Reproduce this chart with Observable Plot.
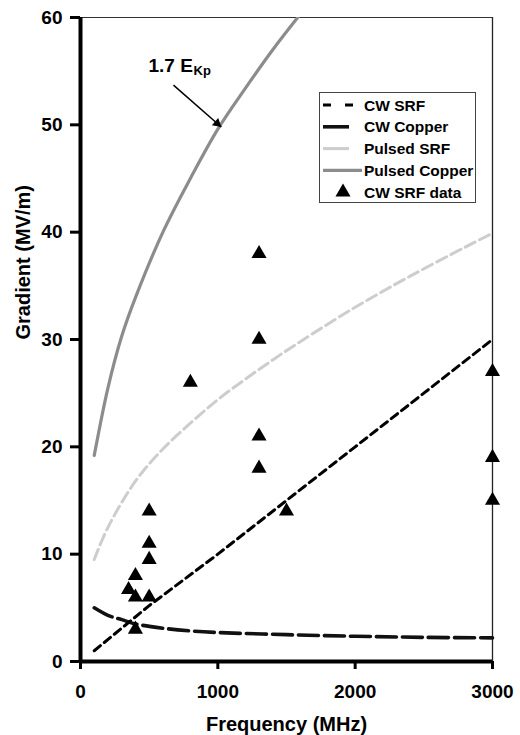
<!DOCTYPE html>
<html>
<head>
<meta charset="utf-8">
<script src="https://cdn.jsdelivr.net/npm/d3@7"></script>
<script src="https://cdn.jsdelivr.net/npm/@observablehq/plot@0.6"></script>
<style>
  html, body { margin: 0; padding: 0; background: #fff; }
  #wrap { position: relative; width: 520px; height: 735px; font-family: "Liberation Sans", Arial, sans-serif; }
  #legend { position: absolute; left: 319px; top: 92px; }
  g[aria-label="y-axis tick"], g[aria-label="x-axis tick"] { stroke-width: 3px; }
</style>
</head>
<body>
<div id="wrap"><div id="chart"></div><div id="legend"></div></div>
<script>
// ---- data ----
const cwSrfFreq = [100, 500, 1000, 1500, 2000, 2500, 3000];
const cwSrfGrad = [1.0, 5.2, 10.0, 15.0, 20.0, 25.0, 30.0];

const cwCopperFreq = [100, 200, 300, 400, 600, 800, 1000, 1500, 2000, 2500, 3000];
const cwCopperGrad = [5.0, 4.3, 3.9, 3.5, 3.1, 2.85, 2.7, 2.5, 2.35, 2.25, 2.2];

const pulsedSrfFreq = [100, 200, 400, 600, 800, 1000, 1200, 1400, 1600, 2000, 2400, 2800, 3000];
const pulsedSrfGrad = [9.5, 12.5, 16.8, 19.8, 22.2, 24.4, 26.3, 28.1, 29.8, 33.0, 35.9, 38.6, 39.9];

const pulsedCuFreq = [100, 200, 300, 400, 600, 800, 1000, 1200, 1400, 1600];
const pulsedCuGrad = [19.2, 25.5, 30.3, 33.9, 40.0, 45.0, 49.6, 53.4, 57.0, 60.3];

const dataFreq = [350, 400, 400, 400, 500, 500, 500, 500, 800, 1300, 1300, 1300, 1300, 1500, 3000, 3000, 3000];
const dataGrad = [6.7, 8.0, 6.0, 3.0, 14.0, 11.0, 9.5, 6.0, 26.0, 38.0, 30.0, 21.0, 18.0, 14.0, 27.0, 19.0, 15.0];

const xTicks = [0, 1000, 2000, 3000];
const yTicks = [0, 10, 20, 30, 40, 50, 60];

const seriesNames = ["CW SRF", "CW Copper", "Pulsed SRF", "Pulsed Copper", "CW SRF data"];

const annoArrow = [{x1: 677, y1: 53.7, x2: 1025, y2: 49.8}];
const annoMain = [{x: 495, y: 54.9, text: "1.7 E"}];
const annoSub = [{x: 823, y: 54.6, text: "Kp"}];

const xTitle = "Frequency (MHz)";
const yTitle = "Gradient (MV/m)";

// ---- build tables ----
const toRows = (xs, ys) => xs.map((x, i) => ({x, y: ys[i]}));
const cwSrf = toRows(cwSrfFreq, cwSrfGrad);
const cwCopper = toRows(cwCopperFreq, cwCopperGrad);
const pulsedSrf = toRows(pulsedSrfFreq, pulsedSrfGrad);
const pulsedCu = toRows(pulsedCuFreq, pulsedCuGrad);
const pts = toRows(dataFreq, dataGrad);

const styles = {
  "CW SRF": {stroke: "#000", strokeWidth: 3, dash: "8,5"},
  "CW Copper": {stroke: "#111", strokeWidth: 3.6, dash: "20,6"},
  "Pulsed SRF": {stroke: "#cdcdcd", strokeWidth: 3, dash: "11,5"},
  "Pulsed Copper": {stroke: "#8c8c8c", strokeWidth: 3.2, dash: null}
};

const font = "Liberation Sans, Arial, sans-serif";

const plot = Plot.plot({
  width: 520,
  height: 735,
  marginLeft: 80,
  marginRight: 28,
  marginTop: 17,
  marginBottom: 74,
  x: {domain: [0, 3000]},
  y: {domain: [0, 60]},
  style: {fontFamily: font, background: "white", color: "black"},
  marks: [
    Plot.ruleY([60], {stroke: "#333", strokeWidth: 1}),
    Plot.ruleX([3000], {stroke: "#222", strokeWidth: 1.3}),
    Plot.line(pulsedCu, {x: "x", y: "y", curve: "catmull-rom", clip: true,
      stroke: styles["Pulsed Copper"].stroke, strokeWidth: styles["Pulsed Copper"].strokeWidth}),
    Plot.line(pulsedSrf, {x: "x", y: "y", curve: "catmull-rom",
      stroke: styles["Pulsed SRF"].stroke, strokeWidth: styles["Pulsed SRF"].strokeWidth,
      strokeDasharray: styles["Pulsed SRF"].dash}),
    Plot.line(cwCopper, {x: "x", y: "y", curve: "catmull-rom",
      stroke: styles["CW Copper"].stroke, strokeWidth: styles["CW Copper"].strokeWidth,
      strokeDasharray: styles["CW Copper"].dash}),
    Plot.line(cwSrf, {x: "x", y: "y",
      stroke: styles["CW SRF"].stroke, strokeWidth: styles["CW SRF"].strokeWidth,
      strokeDasharray: styles["CW SRF"].dash}),
    Plot.dot(pts, {x: "x", y: "y", symbol: "triangle", r: 5.6, fill: "black", stroke: "none"}),
    Plot.ruleX([0], {stroke: "black", strokeWidth: 4}),
    Plot.ruleY([0], {stroke: "black", strokeWidth: 4}),
    Plot.axisY({ticks: yTicks, tickSize: 10, tickPadding: 8, strokeWidth: 3,
      fontSize: 19, fontWeight: "bold", label: null, tickFormat: d => String(d)}),
    Plot.axisX({ticks: xTicks, tickSize: 8, tickPadding: 15, strokeWidth: 3,
      fontSize: 19, fontWeight: "bold", label: null, tickFormat: d => String(d)}),
    Plot.text([yTitle], {frameAnchor: "left", dx: -57, rotate: -90,
      fontSize: 20, fontWeight: "bold", fill: "black"}),
    Plot.text([xTitle], {frameAnchor: "bottom", dy: 69, lineAnchor: "bottom",
      fontSize: 20, fontWeight: "bold", fill: "black"}),
    Plot.link(annoArrow, {x1: "x1", y1: "y1", x2: "x2", y2: "y2",
      stroke: "black", strokeWidth: 1.5}),
    Plot.dot(annoArrow, {x: "x2", y: "y2", symbol: "triangle", r: 3.6, rotate: 130.6,
      dx: -4.1, dy: -3.5, fill: "black", stroke: "none"}),
    Plot.text(annoMain, {x: "x", y: "y", text: "text", textAnchor: "start", lineAnchor: "bottom",
      fontSize: 19, fontWeight: "bold", fill: "black"}),
    Plot.text(annoSub, {x: "x", y: "y", text: "text", textAnchor: "start", lineAnchor: "bottom",
      fontSize: 13, fontWeight: "bold", fill: "black"})
  ]
});
document.getElementById("chart").appendChild(plot);

// ---- legend ----
const lw = 157, lh = 111;
const leg = d3.select("#legend").append("svg")
  .attr("width", lw).attr("height", lh)
  .style("overflow", "visible");
leg.append("rect").attr("x", 0.5).attr("y", 0.5).attr("width", lw - 1).attr("height", lh - 1)
  .attr("fill", "white").attr("stroke", "#444").attr("stroke-width", 1);
const sampleEnd = {"CW SRF": 34, "CW Copper": 30, "Pulsed SRF": 30, "Pulsed Copper": 43};
const sampleDash = {"CW SRF": "8,14", "CW Copper": null, "Pulsed SRF": null, "Pulsed Copper": null};
seriesNames.forEach((name, i) => {
  const cy = 13 + i * 21.8;
  const g = leg.append("g");
  if (styles[name]) {
    const s = styles[name];
    const ln = g.append("line").attr("x1", 4).attr("x2", sampleEnd[name])
      .attr("y1", cy).attr("y2", cy)
      .attr("stroke", s.stroke).attr("stroke-width", s.strokeWidth);
    if (sampleDash[name]) ln.attr("stroke-dasharray", sampleDash[name]);
  } else {
    g.append("path").attr("d", d3.symbol(d3.symbolTriangle, 5.6 * 5.6 * Math.PI)())
      .attr("transform", `translate(24,${cy})`).attr("fill", "black");
  }
  g.append("text").attr("x", 45).attr("y", cy).attr("dy", "0.36em")
    .attr("font-family", font).attr("font-size", 15.5).attr("font-weight", "bold")
    .attr("fill", "black").text(name);
});
</script>
</body>
</html>
